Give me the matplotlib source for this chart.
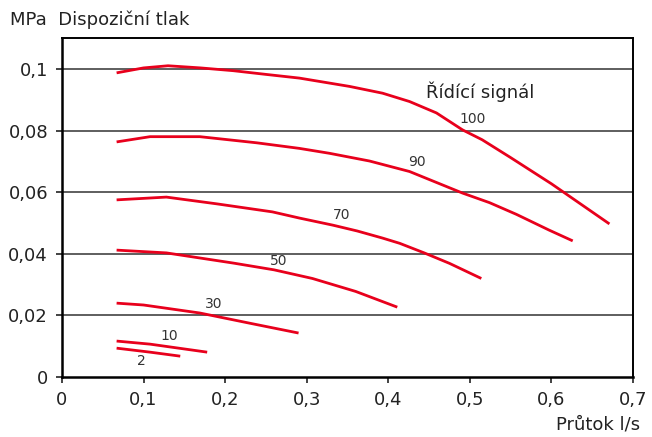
import matplotlib
matplotlib.use('Agg')
import matplotlib.pyplot as plt
from matplotlib.ticker import FixedLocator

# prutok l/s a dispozicni tlak MPa pro kazdy ridici signal
flow_100 = [0.067, 0.10, 0.13, 0.17, 0.21, 0.25, 0.291, 0.3525, 0.393, 0.426, 0.459, 0.491, 0.515, 0.55, 0.60, 0.671]
dp_100 = [0.0987, 0.1003, 0.1010, 0.1003, 0.0994, 0.0982, 0.0970, 0.0943, 0.0921, 0.0894, 0.0857, 0.0802, 0.0770, 0.0712, 0.0627, 0.0497]

flow_90 = [0.067, 0.108, 0.169, 0.239, 0.291, 0.328, 0.377, 0.426, 0.491, 0.524, 0.557, 0.597, 0.626]
dp_90 = [0.0763, 0.0780, 0.0780, 0.0760, 0.0742, 0.0726, 0.0701, 0.0667, 0.0597, 0.0566, 0.0528, 0.0477, 0.0442]

flow_70 = [0.067, 0.128, 0.19, 0.258, 0.291, 0.332, 0.362, 0.393, 0.414, 0.444, 0.475, 0.514]
dp_70 = [0.0575, 0.0584, 0.0562, 0.0536, 0.0516, 0.0493, 0.0474, 0.0451, 0.0434, 0.0403, 0.0369, 0.0320]

flow_50 = [0.067, 0.128, 0.21, 0.26, 0.307, 0.36, 0.411]
dp_50 = [0.0412, 0.0403, 0.0370, 0.0348, 0.0320, 0.0278, 0.0227]

flow_30 = [0.067, 0.10, 0.169, 0.23, 0.29]
dp_30 = [0.0240, 0.0234, 0.0208, 0.0175, 0.0143]

flow_10 = [0.067, 0.108, 0.178]
dp_10 = [0.0117, 0.0107, 0.0081]

flow_2 = [0.067, 0.108, 0.145]
dp_2 = [0.0094, 0.0081, 0.0068]

signals = ['100', '90', '70', '50', '30', '10', '2']
label_x = [0.503, 0.435, 0.343, 0.266, 0.186, 0.132, 0.097]
label_y = [0.0838, 0.0698, 0.0526, 0.0377, 0.0237, 0.0133, 0.0052]

xticks = [0, 0.1, 0.2, 0.3, 0.4, 0.5, 0.6, 0.7]
xtick_labels = ['0', '0,1', '0,2', '0,3', '0,4', '0,5', '0,6', '0,7']
yticks = [0, 0.02, 0.04, 0.06, 0.08, 0.1]
ytick_labels = ['0', '0,02', '0,04', '0,06', '0,08', '0,1']

red = '#e8001c'

fig = plt.figure(figsize=(6.52, 4.37), dpi=100)
ax = fig.add_axes([0.095, 0.137, 0.876, 0.776])

curves = [(flow_100, dp_100), (flow_90, dp_90), (flow_70, dp_70), (flow_50, dp_50),
          (flow_30, dp_30), (flow_10, dp_10), (flow_2, dp_2)]
for x, y in curves:
    ax.plot(x, y, color=red, lw=2.0, solid_capstyle='butt', solid_joinstyle='round', zorder=3)

for s, lx, ly in zip(signals, label_x, label_y):
    ax.text(lx, ly, s, fontsize=10, color='#333333', ha='center', va='center')

ax.text(0.512, 0.0925, 'Řídící signál', fontsize=13, color='#222222', ha='center', va='center')

ax.set_xlim(0, 0.7)
ax.set_ylim(0, 0.110)
ax.xaxis.set_major_locator(FixedLocator(xticks))
ax.set_xticklabels(xtick_labels)
ax.yaxis.set_major_locator(FixedLocator(yticks))
ax.set_yticklabels(ytick_labels)
ax.tick_params(labelsize=13, colors='#222222', length=4, width=1.2, pad=6)

for yv in yticks[1:]:
    ax.axhline(yv, color='#333333', lw=1.1, zorder=1)

for side in ['left', 'bottom']:
    ax.spines[side].set_linewidth(1.8)
for side in ['top', 'right']:
    ax.spines[side].set_linewidth(1.4)

fig.text(0.015, 0.955, 'MPa  Dispoziční tlak', fontsize=13, color='#222222', va='center')
fig.text(0.982, 0.028, 'Průtok l/s', fontsize=13, color='#222222', ha='right', va='center')

plt.savefig('out.png', dpi=100)
